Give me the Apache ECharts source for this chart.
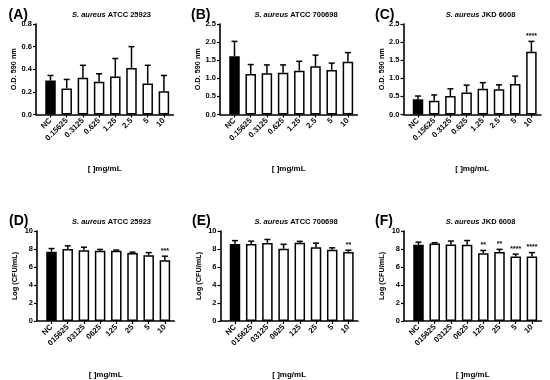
<!DOCTYPE html>
<html><head><meta charset="utf-8">
<script src="https://cdn.jsdelivr.net/npm/echarts@6/dist/echarts.min.js"></script>
<style>html,body{margin:0;padding:0;background:#fff}#c{width:550px;height:380px}</style>
</head><body><div id="c"></div>
<script>
const categoriesTop = ['NC','0.15625','0.3125','0.625','1.25','2.5','5','10'];
const categoriesBottom = ['NC','015625','03125','0625','125','25','5','10'];

const meanA = [0.30,0.23,0.325,0.29,0.335,0.41,0.275,0.205];
const sdA   = [0.045,0.08,0.11,0.07,0.16,0.19,0.16,0.14];
const starsA = ['','','','','','','',''];

const meanB = [1.61,1.12,1.14,1.15,1.21,1.33,1.23,1.46];
const sdB   = [0.41,0.26,0.23,0.22,0.26,0.31,0.19,0.25];
const starsB = ['','','','','','','',''];

const meanC = [0.42,0.38,0.51,0.61,0.71,0.70,0.84,1.73];
const sdC   = [0.09,0.16,0.20,0.20,0.17,0.12,0.22,0.29];
const starsC = ['','','','','','','','****'];

const meanD = [7.70,8.00,7.85,7.80,7.80,7.55,7.30,6.75];
const sdD   = [0.35,0.35,0.35,0.15,0.08,0.10,0.30,0.45];
const starsD = ['','','','','','','','***'];

const meanE = [8.55,8.55,8.68,8.02,8.70,8.20,7.93,7.68];
const sdE   = [0.38,0.32,0.38,0.50,0.15,0.45,0.20,0.18];
const starsE = ['','','','','','','','**'];

const meanF = [8.46,8.62,8.50,8.46,7.54,7.66,7.18,7.18];
const sdF   = [0.30,0.08,0.38,0.48,0.30,0.30,0.25,0.42];
const starsF = ['','','','','**','**','****','****'];

const panelLetters = ['(A)','(B)','(C)','(D)','(E)','(F)'];
const strainNames = ['ATCC 25923','ATCC 700698','JKD 6008','ATCC 25923','ATCC 700698','JKD 6008'];
const yNames = ['O.D. 590 nm','O.D. 590 nm','O.D. 590 nm','Log (CFU/mL)','Log (CFU/mL)','Log (CFU/mL)'];
const yMax = [0.8,2.5,2.5,10,10,10];
const yInterval = [0.2,0.5,0.5,2,2,2];
const xName = '[ ]mg/mL';

const means = [meanA,meanB,meanC,meanD,meanE,meanF];
const sds = [sdA,sdB,sdC,sdD,sdE,sdF];
const stars = [starsA,starsB,starsC,starsD,starsE,starsF];
const cats = [categoriesTop,categoriesTop,categoriesTop,categoriesBottom,categoriesBottom,categoriesBottom];

// layout
const FONT = '"Liberation Sans", Arial, sans-serif';
const gridLeft = [36,220,403.5,37,220.5,404];
const gridTop = [24,24,24,231,231,231];
const gridH = 90.5, gridW = 137.4;
const titleX = [106.5,291,475.5,106.5,291,475.5];
const titleY = [6,6,6,213,213,213];
const letterX = [3.5,186,370,4,187,370];
const letterY = [3.5,3.5,3.5,209.5,209.5,209.5];

const chart = echarts.init(document.getElementById('c'), null, {renderer:'canvas'});
const grids=[], xAxes=[], yAxes=[], series=[], titles=[];
for (let p=0;p<6;p++){
  grids.push({left:gridLeft[p], top:gridTop[p], width:gridW, height:gridH, containLabel:false});
  titles.push({
    text:'{i|S. aureus} '+strainNames[p], left:titleX[p], top:titleY[p], textAlign:'center',
    textStyle:{fontFamily:FONT,fontSize:7.5,fontWeight:'bold',color:'#000',
      rich:{i:{fontFamily:FONT,fontSize:7.5,fontWeight:'bold',fontStyle:'italic',color:'#000'}}}
  });
  titles.push({text:panelLetters[p], left:letterX[p], top:letterY[p],
    textStyle:{fontFamily:FONT,fontSize:14,fontWeight:'bold',color:'#000'}});
  const c = cats[p];
  xAxes.push({
    type:'value', gridIndex:p, min:-0.895, max:7.586,
    name:xName, nameLocation:'middle', nameGap:50,
    nameTextStyle:{fontFamily:FONT,fontSize:8,fontWeight:'bold',color:'#000'},
    axisLine:{show:true,onZero:false,lineStyle:{color:'#000',width:1.6}},
    axisTick:{show:true,length:3,lineStyle:{color:'#000',width:1.2},customValues:[0,1,2,3,4,5,6,7]},
    axisLabel:{customValues:[0,1,2,3,4,5,6,7], rotate:45, margin:5,
      fontFamily:FONT,fontSize:7.8,fontWeight:'bold',color:'#000',
      formatter:v=>c[Math.round(v)]},
    splitLine:{show:false}
  });
  yAxes.push({
    type:'value', gridIndex:p, min:0, max:yMax[p], interval:yInterval[p],
    name:yNames[p], nameLocation:'middle', nameGap:p<3?17:18.5,
    nameTextStyle:{fontFamily:FONT,fontSize:7.3,fontWeight:'bold',color:'#000'},
    axisLine:{show:true,onZero:false,lineStyle:{color:'#000',width:1.6}},
    axisTick:{show:true,length:3,lineStyle:{color:'#000',width:1.2}},
    axisLabel:{margin:4,fontFamily:FONT,fontSize:7.5,fontWeight:'bold',color:'#000',
      formatter:v=>p<3?v.toFixed(1):String(Math.round(v))},
    splitLine:{show:false}
  });
  const m = means[p], s = sds[p], st = stars[p];
  series.push({
    type:'bar', xAxisIndex:p, yAxisIndex:p, barWidth:10.5, z:2,
    data:m.map((v,i)=>({value:[i,v], itemStyle:{color:i===0?'#000':'#fff',borderColor:'#000',borderWidth:1.5}})),
    silent:true, animation:false
  });
  series.push({
    type:'custom', xAxisIndex:p, yAxisIndex:p, z:3, animation:false, silent:true,
    data:m.map((v,i)=>[i,v,s[i]]),
    renderItem:(params,api)=>{
      const x=api.value(0), v=api.value(1), e=api.value(2);
      const p0=api.coord([x,v]), p1=api.coord([x,v+e]);
      const ch=[
        {type:'line',shape:{x1:p0[0],y1:p0[1],x2:p1[0],y2:p1[1]},style:{stroke:'#000',lineWidth:1.5}},
        {type:'line',shape:{x1:p1[0]-3,y1:p1[1],x2:p1[0]+3,y2:p1[1]},style:{stroke:'#000',lineWidth:1.5}}
      ];
      const t = st[params.dataIndex];
      if (t) ch.push({type:'text',style:{text:t,x:p1[0],y:p1[1]-2,align:'center',verticalAlign:'bottom',
        font:'bold 7px '+FONT,fill:'#000'}});
      return {type:'group',children:ch};
    }
  });
}
chart.setOption({animation:false, backgroundColor:'#fff', title:titles, grid:grids, xAxis:xAxes, yAxis:yAxes, series:series});
</script></body></html>
